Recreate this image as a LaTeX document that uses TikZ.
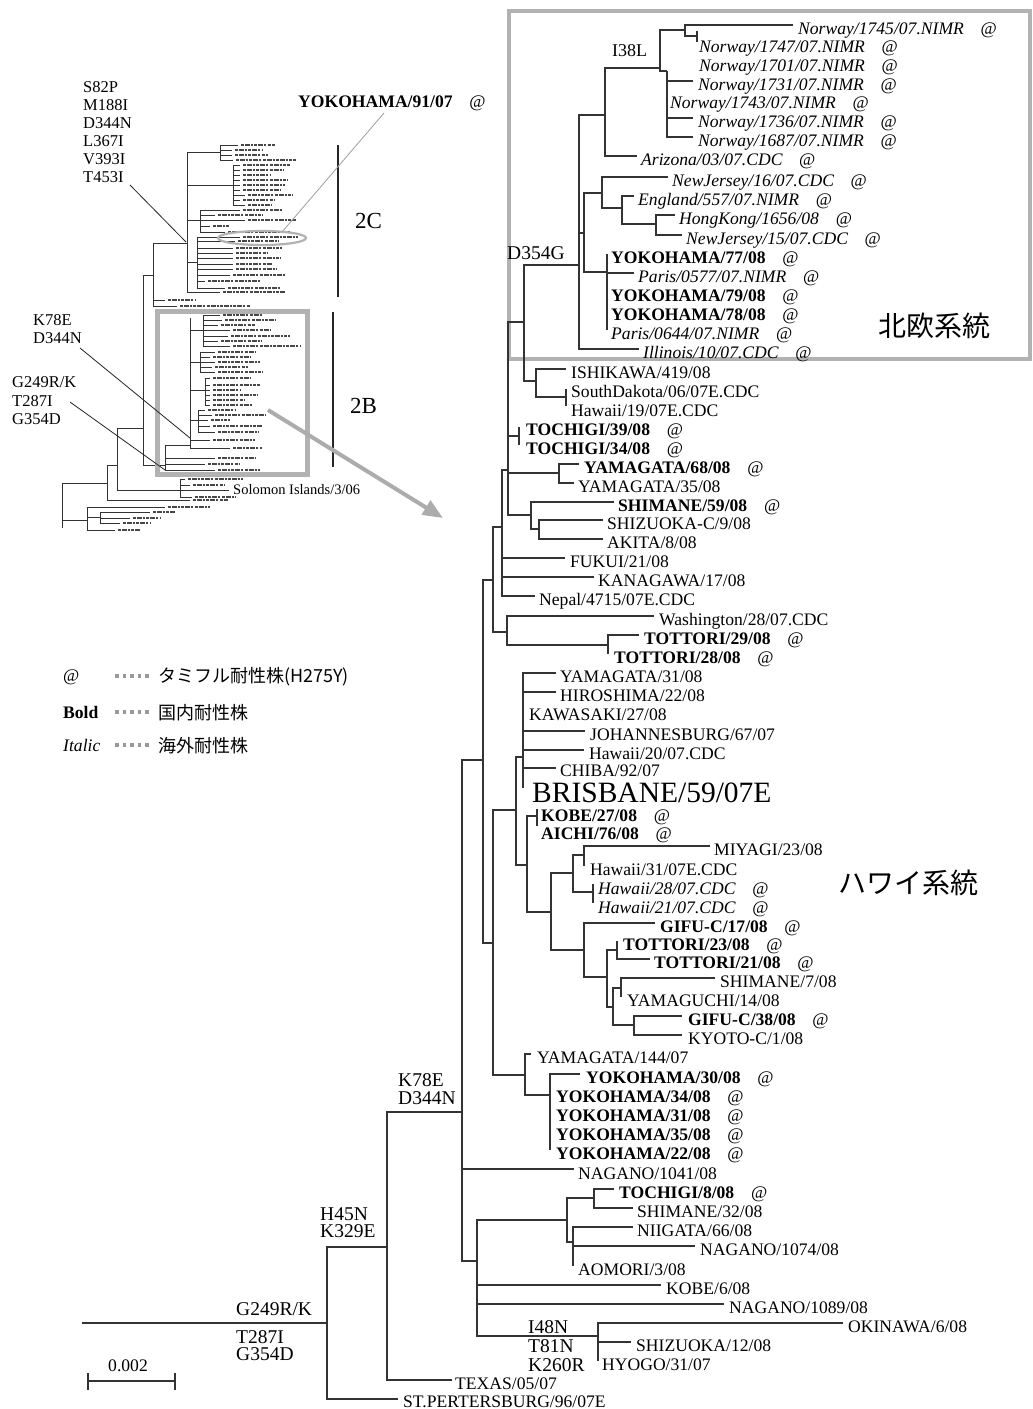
\documentclass[tikz,border=0pt]{standalone}
\usepackage{fontspec}
\setmainfont{Liberation Serif}
\newfontfamily\jpf{Noto Sans CJK JP}
\usetikzlibrary{arrows.meta}
\newcommand\atm{\hspace{0.95em}{\normalfont @}}
\begin{document}
\begin{tikzpicture}[x=1pt,y=-1pt]
\tikzset{
 br/.style={draw=black!80, line width=1.15pt},
 ib/.style={draw=black!80, line width=0.6pt},
 blob/.style={draw=black!72, line width=2.2pt, dash pattern=on 3pt off 1pt on 5pt off 1pt on 2pt off 1.3pt},
 lab/.style={anchor=base west, inner sep=0pt, font=\fontsize{17.6}{18}\selectfont},
 bl/.style={lab, font=\fontsize{17.6}{18}\selectfont\bfseries},
 itl/.style={lab, font=\fontsize{17.6}{18}\selectfont\itshape},
 big/.style={lab, font=\fontsize{29.5}{30}\selectfont},
 mut/.style={anchor=base west, inner sep=0pt, font=\fontsize{19.5}{20}\selectfont},
 imut/.style={anchor=base west, inner sep=0pt, font=\fontsize{16.5}{17}\selectfont},
 clade/.style={anchor=base west, inner sep=0pt, font=\jpf\fontsize{28}{30}\selectfont},
 leg/.style={anchor=base west, inner sep=0pt, font=\jpf\fontsize{18}{20}\selectfont},
 boxg/.style={draw=gray!60, line width=3.5pt},
 ptr/.style={draw=black!85, line width=0.8pt},
 legdot/.style={fill=gray!80, minimum size=3.6pt, inner sep=0pt, draw=none}
}
\fill[white] (0,0) rectangle (1033,1409);
\useasboundingbox (0,0) rectangle (1033,1409);

% ---------------- boxes ----------------
\draw[boxg] (509,11) rectangle (1030,359);

% ---------------- internal nodes of main tree ----------------
\coordinate (root) at (82,1323);
\coordinate (R1) at (327,1323);
\coordinate (R2) at (387,1247);
\coordinate (R3) at (462,1112);
\coordinate (T) at (483,760);
\coordinate (U) at (493,580);
\coordinate (W) at (502,527);
\coordinate (Y) at (508,470);
\coordinate (Q) at (524,322);
\coordinate (D) at (579,265);
\coordinate (H) at (605,115);
\coordinate (J) at (660,68);
\coordinate (K) at (685,30);
\coordinate (M) at (697,36);
\coordinate (L) at (667,71);
\coordinate (E) at (584,233);
\coordinate (F) at (602,193);
\coordinate (EN) at (622,208);
\coordinate (HN) at (656,224);
\coordinate (G) at (607,272);
\coordinate (Z) at (536,381);
\coordinate (ZP) at (566,397);
\coordinate (TP) at (519,436);
\coordinate (YP) at (559,473);
\coordinate (SP) at (531,515);
\coordinate (SP2) at (539,529);
\coordinate (WT) at (507,632);
\coordinate (TT) at (608,645);
\coordinate (V) at (493,943);
\coordinate (P) at (516,810);
\coordinate (PB) at (523,757);
\coordinate (PK) at (527,865);
\coordinate (KA) at (537,816);
\coordinate (AA) at (551,912);
\coordinate (AB) at (573,873);
\coordinate (AD) at (584,855);
\coordinate (AE) at (593,892);
\coordinate (AC) at (584,950);
\coordinate (AF) at (607,977);
\coordinate (AG) at (617,950);
\coordinate (AH) at (613,1007);
\coordinate (AI) at (621,988);
\coordinate (AJ) at (634,1025);
\coordinate (AK) at (525,1075);
\coordinate (AL) at (550,1095);
\coordinate (S) at (477,1261);
\coordinate (AM) at (567,1220);
\coordinate (AO) at (594,1198);
\coordinate (AP) at (573,1242);
\coordinate (AN) at (598,1336);

% leaf ends
\coordinate (e1745) at (793,25);
\coordinate (Mt) at (697,31); \coordinate (Mb) at (697,42);
\coordinate (e1731) at (693,81);
\coordinate (e1736) at (693,118);
\coordinate (e1687) at (693,137);
\coordinate (eAriz) at (637,156);
\coordinate (eNJ16) at (668,177);
\coordinate (eEng) at (634,196);
\coordinate (eHK) at (675,215);
\coordinate (eNJ15) at (682,235);
\coordinate (Gt) at (607,254); \coordinate (Gb) at (607,330);
\coordinate (ePar1) at (634,273);
\coordinate (eIll) at (639,349);
\coordinate (eIsh) at (566,369);
\coordinate (ZPt) at (566,389); \coordinate (ZPb) at (566,406);
\coordinate (TPt) at (519,427); \coordinate (TPb) at (519,445);
\coordinate (eY68) at (579,464);
\coordinate (eY35) at (574,483);
\coordinate (eSh59) at (614,502);
\coordinate (eShz) at (603,520);
\coordinate (eAki) at (603,539);
\coordinate (eFuk) at (565,558);
\coordinate (eKan) at (594,577);
\coordinate (eNep) at (535,596);
\coordinate (eWas) at (654,616);
\coordinate (eT29) at (639,635);
\coordinate (TTb) at (608,654);
\coordinate (eY31) at (556,673);
\coordinate (eHir) at (556,692);
\coordinate (eJoh) at (585,731);
\coordinate (eH20) at (584,750);
\coordinate (eChi) at (556,768);
\coordinate (PBb) at (523,788);
\coordinate (KAt) at (537,809); \coordinate (KAb) at (537,826);
\coordinate (eMiy) at (710,846);
\coordinate (ADb) at (584,866);
\coordinate (AEt) at (593,884); \coordinate (AEb) at (593,903);
\coordinate (eG17) at (655,923);
\coordinate (AGt) at (617,941);
\coordinate (eT21) at (650,959);
\coordinate (eSh7) at (715,978);
\coordinate (AIb) at (621,997);
\coordinate (eG38) at (682,1016);
\coordinate (eKyo) at (682,1035);
\coordinate (eY144) at (531,1054);
\coordinate (eYk30) at (580,1074);
\coordinate (ALb) at (550,1150);
\coordinate (eN1041) at (574,1169);
\coordinate (eT8) at (614,1189);
\coordinate (eSh32) at (633,1208);
\coordinate (eNii) at (633,1227);
\coordinate (eN1074) at (695,1246);
\coordinate (APb) at (573,1266);
\coordinate (eKobe6) at (661,1285);
\coordinate (eN1089) at (724,1304);
\coordinate (eOki) at (843,1323);
\coordinate (eShz12) at (631,1342);
\coordinate (ANb) at (598,1361);
\coordinate (eTex) at (452,1380);
\coordinate (eStp) at (398,1399);

% ---------------- branches ----------------
\draw[br] (root) -- (R1);
\draw[br] (R1) |- (R2);
\draw[br] (R1) |- (eStp);
\draw[br] (R2) |- (R3);
\draw[br] (R2) |- (eTex);
\draw[br] (R3) |- (T);
\draw[br] (R3) |- (eN1041);
\draw[br] (R3) |- (S);
\draw[br] (T) |- (U);
\draw[br] (T) |- (V);
\draw[br] (U) |- (W);
\draw[br] (U) |- (WT);
\draw[br] (W) |- (Y);
\draw[br] (W) |- (eFuk);
\draw[br] (W) |- (eKan);
\draw[br] (W) |- (eNep);
\draw[br] (Y) |- (Q);
\draw[br] (Y) |- (TP);
\draw[br] (Y) |- (YP);
\draw[br] (Y) |- (SP);
\draw[br] (Q) |- (D);
\draw[br] (Q) |- (Z);
\draw[br] (D) |- (H);
\draw[br] (D) |- (E);
\draw[br] (D) |- (eIll);
\draw[br] (H) |- (J);
\draw[br] (H) |- (eAriz);
\draw[br] (J) |- (K);
\draw[br] (J) |- (L);
\draw[br] (K) |- (e1745);
\draw[br] (K) |- (M);
\draw[br] (Mt) -- (Mb);
\draw[br] (L) |- (e1731);
\draw[br] (L) |- (e1736);
\draw[br] (L) |- (e1687);
\draw[br] (E) |- (F);
\draw[br] (E) |- (G);
\draw[br] (F) |- (eNJ16);
\draw[br] (F) |- (EN);
\draw[br] (EN) |- (eEng);
\draw[br] (EN) |- (HN);
\draw[br] (HN) |- (eHK);
\draw[br] (HN) |- (eNJ15);
\draw[br] (Gt) -- (Gb);
\draw[br] (G) |- (ePar1);
\draw[br] (Z) |- (eIsh);
\draw[br] (Z) |- (ZP);
\draw[br] (ZPt) -- (ZPb);
\draw[br] (TPt) -- (TPb);
\draw[br] (YP) |- (eY68);
\draw[br] (YP) |- (eY35);
\draw[br] (SP) |- (eSh59);
\draw[br] (SP) |- (SP2);
\draw[br] (SP2) |- (eShz);
\draw[br] (SP2) |- (eAki);
\draw[br] (WT) |- (eWas);
\draw[br] (WT) |- (TT);
\draw[br] (TT) |- (eT29);
\draw[br] (TT) -- (TTb);
\draw[br] (V) |- (P);
\draw[br] (V) |- (AK);
\draw[br] (P) |- (PB);
\draw[br] (P) |- (PK);
\draw[br] (PB) |- (eY31);
\draw[br] (PB) |- (eHir);
\draw[br] (PB) |- (eJoh);
\draw[br] (PB) |- (eH20);
\draw[br] (PB) |- (eChi);
\draw[br] (PB) -- (PBb);
\draw[br] (PK) |- (KA);
\draw[br] (PK) |- (AA);
\draw[br] (KAt) -- (KAb);
\draw[br] (AA) |- (AB);
\draw[br] (AA) |- (AC);
\draw[br] (AB) |- (AD);
\draw[br] (AB) |- (AE);
\draw[br] (AD) |- (eMiy);
\draw[br] (AD) -- (ADb);
\draw[br] (AEt) -- (AEb);
\draw[br] (AC) |- (eG17);
\draw[br] (AC) |- (AF);
\draw[br] (AF) |- (AG);
\draw[br] (AF) |- (AH);
\draw[br] (AG) -- (AGt);
\draw[br] (AG) |- (eT21);
\draw[br] (AH) |- (AI);
\draw[br] (AH) |- (AJ);
\draw[br] (AI) |- (eSh7);
\draw[br] (AI) -- (AIb);
\draw[br] (AJ) |- (eG38);
\draw[br] (AJ) |- (eKyo);
\draw[br] (AK) |- (eY144);
\draw[br] (AK) |- (AL);
\draw[br] (AL) |- (eYk30);
\draw[br] (AL) -- (ALb);
\draw[br] (S) |- (AM);
\draw[br] (S) |- (eKobe6);
\draw[br] (S) |- (eN1089);
\draw[br] (S) |- (AN);
\draw[br] (AM) |- (AO);
\draw[br] (AM) |- (AP);
\draw[br] (AO) |- (eT8);
\draw[br] (AO) |- (eSh32);
\draw[br] (AP) |- (eNii);
\draw[br] (AP) |- (eN1074);
\draw[br] (AP) -- (APb);
\draw[br] (AN) |- (eOki);
\draw[br] (AN) |- (eShz12);
\draw[br] (AN) -- (ANb);

% ---------------- leaf labels ----------------
\node[itl] (l1745) at (798,34) {Norway/1745/07.NIMR\atm};
\node[itl] (l1747) at (699,52) {Norway/1747/07.NIMR\atm};
\node[itl] (l1701) at (699,71) {Norway/1701/07.NIMR\atm};
\node[itl] (l1731) at (698,90) {Norway/1731/07.NIMR\atm};
\node[itl] (l1743) at (670,108) {Norway/1743/07.NIMR\atm};
\node[itl] (l1736) at (698,127) {Norway/1736/07.NIMR\atm};
\node[itl] (l1687) at (698,146) {Norway/1687/07.NIMR\atm};
\node[itl] (lAriz) at (641,165) {Arizona/03/07.CDC\atm};
\node[itl] (lNJ16) at (672,186) {NewJersey/16/07.CDC\atm};
\node[itl] (lEng) at (638,205) {England/557/07.NIMR\atm};
\node[itl] (lHK) at (679,224) {HongKong/1656/08\atm};
\node[itl] (lNJ15) at (686,244) {NewJersey/15/07.CDC\atm};
\node[bl] (lY77) at (611,263) {YOKOHAMA/77/08\atm};
\node[itl] (lPar1) at (638,282) {Paris/0577/07.NIMR\atm};
\node[bl] (lY79) at (611,301) {YOKOHAMA/79/08\atm};
\node[bl] (lY78) at (611,320) {YOKOHAMA/78/08\atm};
\node[itl] (lPar2) at (611,339) {Paris/0644/07.NIMR\atm};
\node[itl] (lIll) at (643,358) {Illinois/10/07.CDC\atm};
\node[lab] (lIsh) at (571,378) {ISHIKAWA/419/08};
\node[lab] (lSD) at (571,397) {SouthDakota/06/07E.CDC};
\node[lab] (lH19) at (571,416) {Hawaii/19/07E.CDC};
\node[bl] (lT39) at (526,435) {TOCHIGI/39/08\atm};
\node[bl] (lT34) at (526,454) {TOCHIGI/34/08\atm};
\node[bl] (lY68) at (584,473) {YAMAGATA/68/08\atm};
\node[lab] (lY35) at (578,492) {YAMAGATA/35/08};
\node[bl] (lSh59) at (618,511) {SHIMANE/59/08\atm};
\node[lab] (lShz) at (607,529) {SHIZUOKA-C/9/08};
\node[lab] (lAki) at (607,548) {AKITA/8/08};
\node[lab] (lFuk) at (570,567) {FUKUI/21/08};
\node[lab] (lKan) at (598,586) {KANAGAWA/17/08};
\node[lab] (lNep) at (539,605) {Nepal/4715/07E.CDC};
\node[lab] (lWas) at (659,625) {Washington/28/07.CDC};
\node[bl] (lT29) at (644,644) {TOTTORI/29/08\atm};
\node[bl] (lT28) at (614,663) {TOTTORI/28/08\atm};
\node[lab] (lY31) at (560,682) {YAMAGATA/31/08};
\node[lab] (lHir) at (560,701) {HIROSHIMA/22/08};
\node[lab] (lKaw) at (529,720) {KAWASAKI/27/08};
\node[lab] (lJoh) at (590,740) {JOHANNESBURG/67/07};
\node[lab] (lH20) at (589,759) {Hawaii/20/07.CDC};
\node[lab] (lChi) at (560,776) {CHIBA/92/07};
\node[big] (lBri) at (532,802) {BRISBANE/59/07E};
\node[bl] (lKobe27) at (541,821) {KOBE/27/08\atm};
\node[bl] (lAichi) at (541,839) {AICHI/76/08\atm};
\node[lab] (lMiy) at (714,855) {MIYAGI/23/08};
\node[lab] (lH31) at (590,875) {Hawaii/31/07E.CDC};
\node[itl] (lH28) at (598,894) {Hawaii/28/07.CDC\atm};
\node[itl] (lH21) at (598,913) {Hawaii/21/07.CDC\atm};
\node[bl] (lG17) at (660,932) {GIFU-C/17/08\atm};
\node[bl] (lT23) at (623,950) {TOTTORI/23/08\atm};
\node[bl] (lT21) at (654,968) {TOTTORI/21/08\atm};
\node[lab] (lSh7) at (720,987) {SHIMANE/7/08};
\node[lab] (lYgc) at (627,1006) {YAMAGUCHI/14/08};
\node[bl] (lG38) at (688,1025) {GIFU-C/38/08\atm};
\node[lab] (lKyo) at (688,1044) {KYOTO-C/1/08};
\node[lab] (lY144) at (537,1063) {YAMAGATA/144/07};
\node[bl] (lYk30) at (586,1083) {YOKOHAMA/30/08\atm};
\node[bl] (lYk34) at (556,1102) {YOKOHAMA/34/08\atm};
\node[bl] (lYk31) at (556,1121) {YOKOHAMA/31/08\atm};
\node[bl] (lYk35) at (556,1140) {YOKOHAMA/35/08\atm};
\node[bl] (lYk22) at (556,1159) {YOKOHAMA/22/08\atm};
\node[lab] (lN1041) at (578,1179) {NAGANO/1041/08};
\node[bl] (lT8) at (619,1198) {TOCHIGI/8/08\atm};
\node[lab] (lSh32) at (637,1217) {SHIMANE/32/08};
\node[lab] (lNii) at (637,1236) {NIIGATA/66/08};
\node[lab] (lN1074) at (700,1255) {NAGANO/1074/08};
\node[lab] (lAom) at (578,1275) {AOMORI/3/08};
\node[lab] (lKobe6) at (666,1294) {KOBE/6/08};
\node[lab] (lN1089) at (729,1313) {NAGANO/1089/08};
\node[lab] (lOki) at (848,1332) {OKINAWA/6/08};
\node[lab] (lShz12) at (636,1351) {SHIZUOKA/12/08};
\node[lab] (lHyo) at (602,1370) {HYOGO/31/07};
\node[lab] (lTex) at (455,1389) {TEXAS/05/07};
\node[lab] (lStp) at (403,1407) {ST.PERTERSBURG/96/07E};

% ---------------- mutation labels ----------------
\node[anchor=base west, inner sep=0pt, font=\fontsize{18}{19}\selectfont] (mI38L) at (612,56) {I38L};
\node[mut] (mD354G) at (507,259) {D354G};
\node[mut] (mK78E) at (398,1086) {K78E};
\node[mut] (mD344N) at (398,1104) {D344N};
\node[mut] (mH45N) at (320,1220) {H45N};
\node[mut] (mK329E) at (320,1237) {K329E};
\node[mut] (mG249) at (236,1315) {G249R/K};
\node[mut] (mT287) at (236,1343) {T287I};
\node[mut] (mG354) at (236,1360) {G354D};
\node[mut] (mI48N) at (528,1333) {I48N};
\node[mut] (mT81N) at (528,1352) {T81N};
\node[mut] (mK260R) at (528,1371) {K260R};

% clade names
\node[clade] (cNord) at (878,336) {北欧系統};
\node[clade] (cHaw) at (838,893) {ハワイ系統};

% ---------------- scale bar ----------------
\node[lab] (sbl) at (108,1371) {0.002};
\coordinate (sbL) at (88,1381); \coordinate (sbR) at (175,1381);
\draw[br] (sbL) -- (sbR);
\draw[br] ([yshift=-8.5pt]sbL) -- ([yshift=8.5pt]sbL);
\draw[br] ([yshift=-8.5pt]sbR) -- ([yshift=8.5pt]sbR);

% ---------------- legend ----------------
\node[lab] (legAt) at (63,681) {@};
\node[bl] (legBold) at (63,718) {Bold};
\node[itl] (legIt) at (63,751) {Italic};
\foreach \yy in {676,712,745}{
  \foreach \xx in {117,124.5,132,139.5,147}{
    \node[legdot] at (\xx,\yy) {};
  }
}
\node[leg] (legT1) at (158,682) {タミフル耐性株(H275Y)};
\node[leg] (legT2) at (158,719) {国内耐性株};
\node[leg] (legT3) at (158,752) {海外耐性株};

% ---------------- inset tree ----------------
\draw[ib] (220,145) -- (220,160);
\draw[ib] (233,165) -- (233,205);
\draw[ib] (200,210) -- (200,232);
\draw[ib] (197,237) -- (197,288);
\draw[ib] (187,152) -- (187,292);
\draw[ib] (153,243) -- (153,306);
\draw[ib] (143,275) -- (143,465);
\draw[ib] (187,152) -- (220,152);
\draw[ib] (187,185) -- (233,185);
\draw[ib] (187,220) -- (200,220);
\draw[ib] (187,262) -- (197,262);
\draw[ib] (153,243) -- (187,243);
\draw[ib] (143,275) -- (153,275);
\draw[ib] (203,315) -- (203,346);
\draw[ib] (200,352) -- (200,372);
\draw[ib] (205,378) -- (205,405);
\draw[ib] (198,410) -- (198,432);
\draw[ib] (190,318) -- (190,448);
\draw[ib] (165,445) -- (165,470);
\draw[ib] (190,330) -- (203,330);
\draw[ib] (190,362) -- (200,362);
\draw[ib] (190,390) -- (205,390);
\draw[ib] (190,420) -- (198,420);
\draw[ib] (165,445) -- (190,445);
\draw[ib] (143,465) -- (165,465);
\draw[ib] (180,479) -- (180,497);
\draw[ib] (117,428) -- (117,490);
\draw[ib] (117,428) -- (143,428);
\draw[ib] (117,490) -- (229,490);
\draw[ib] (107,465) -- (107,500);
\draw[ib] (107,465) -- (117,465);
\draw[ib] (62,483) -- (62,528);
\draw[ib] (62,483) -- (107,483);
\draw[ib] (87,507) -- (87,530);
\draw[ib] (62,520) -- (87,520);
\draw[ib] (100,512) -- (100,523);
\draw[ib] (87,517) -- (100,517);
\foreach \y/\a/\b/\c in {145/220/238/275, 150/220/232/262, 155/220/232/268, 160/220/233/296,
  165/233/240/290, 170/233/240/283, 175/233/240/270, 180/233/240/288, 185/233/240/285, 190/233/240/280, 195/233/245/292, 200/233/240/275, 205/233/245/272,
  210/200/240/282, 215/200/215/262, 220/200/245/296, 226/200/210/230, 232/200/225/290,
  237/197/240/298, 241/197/235/278, 248/197/233/282, 253/197/233/268, 258/197/233/280, 264/197/233/272, 269/197/233/276, 275/197/230/285, 281/197/205/260, 288/197/225/280,
  292/187/220/285, 300/153/165/195, 306/153/177/250,
  315/203/220/262, 320/203/222/275, 325/203/218/255, 330/203/230/270, 336/203/228/290, 341/203/218/262, 346/203/230/300,
  352/200/215/255, 357/200/210/250, 362/200/215/260, 367/200/212/248, 372/200/215/262,
  378/205/210/250, 385/205/210/260, 390/205/210/240, 395/205/210/258, 400/205/210/245, 405/205/210/252,
  410/198/205/235, 415/198/212/265, 420/198/208/230, 426/198/210/262, 432/198/215/258,
  440/190/210/255, 448/190/230/262, 458/165/215/255, 464/165/205/240, 470/165/215/260,
  479/180/185/243, 485/180/190/225, 497/180/192/235, 500/107/190/228, 507/87/165/210,
  512/100/150/175, 518/100/130/160, 523/100/120/150, 530/87/115/140}{
  \draw[ib] (\a,\y) -- (\b,\y);
  \draw[blob] (\b+3,\y) -- (\c,\y);
}

% inset box, ellipse, bars, arrow
\draw[draw=gray!60, line width=5pt] (157,311) rectangle (307,474);
\draw[draw=gray!60, line width=2.2pt] (262,238) ellipse [x radius=44, y radius=7];
\coordinate (bar2Ct) at (338,145); \coordinate (bar2Cb) at (338,297);
\coordinate (bar2Bt) at (333,312); \coordinate (bar2Bb) at (333,467);
\draw[draw=black!85, line width=1.3pt] (bar2Ct) -- (bar2Cb);
\draw[draw=black!85, line width=1.3pt] (bar2Bt) -- (bar2Bb);
\node[anchor=base west, inner sep=0pt, font=\fontsize{23}{24}\selectfont] (t2C) at (355,228) {2C};
\node[anchor=base west, inner sep=0pt, font=\fontsize{23}{24}\selectfont] (t2B) at (350,413) {2B};
\coordinate (arrS) at (268,410); \coordinate (arrE) at (443,518);
\draw[draw=gray!65, line width=4pt, -{Triangle[length=20pt,width=16pt]}] (arrS) -- (arrE);

% inset labels
\node[imut] (iS82P) at (83,92.5) {S82P};
\node[imut] (iM188I) at (83,110.5) {M188I};
\node[imut] (iD344N) at (83,128.5) {D344N};
\node[imut] (iL367I) at (83,146.5) {L367I};
\node[imut] (iV393I) at (83,164.5) {V393I};
\node[imut] (iT453I) at (83,182.5) {T453I};
\node[bl] (iYok) at (298,107) {YOKOHAMA/91/07\atm};
\node[imut] (iK78E) at (33,325.5) {K78E};
\node[imut] (iD344Nb) at (33,343.5) {D344N};
\node[imut] (iG249) at (12,387.5) {G249R/K};
\node[imut] (iT287) at (12,406.5) {T287I};
\node[imut] (iG354) at (12,424.5) {G354D};
\node[anchor=base west, inner sep=0pt, font=\fontsize{14.5}{15}\selectfont] (iSol) at (233,494) {Solomon Islands/3/06};

% pointer lines
\coordinate (p1a) at (130,185); \coordinate (p1b) at (186,242);
\coordinate (p2a) at (384,113); \coordinate (p2b) at (282,232);
\coordinate (p3a) at (80,348); \coordinate (p3b) at (190,438);
\coordinate (p4a) at (70,402); \coordinate (p4b) at (165,470);
\draw[ptr] (p1a) -- (p1b);
\draw[draw=gray!70, line width=0.9pt] (p2a) -- (p2b);
\draw[ptr] (p3a) -- (p3b);
\draw[ptr] (p4a) -- (p4b);
\end{tikzpicture}
\end{document}
